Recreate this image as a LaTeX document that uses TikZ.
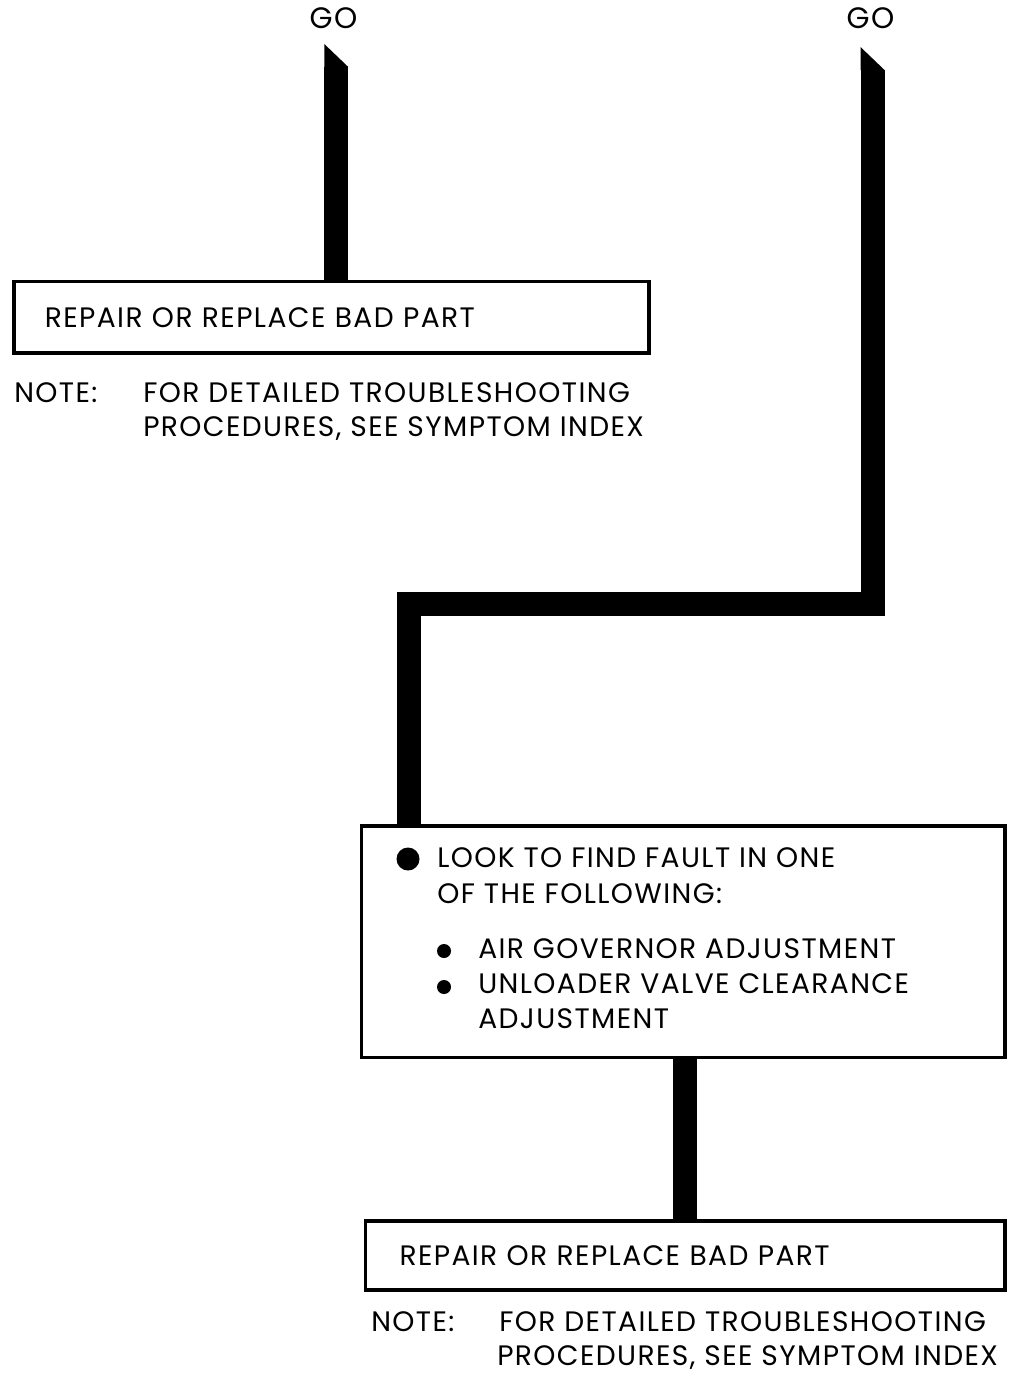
\documentclass[tikz,border=0pt]{standalone}
\usepackage{fontspec}
\setmainfont{Poppins}[LetterSpace=5]
\usepackage{tikz}
\usetikzlibrary{positioning}
\newcommand{\boxfont}{\fontsize{20}{24.2}\selectfont}

\begin{document}
\begin{tikzpicture}[
  x=0.025cm, y=-0.025cm,
  stepbox/.style={draw, line width=0.09cm, anchor=north west, align=left, font=\boxfont},
  flow/.style={line width=0.6cm},
  txt/.style={anchor=base west, inner sep=0pt, font=\boxfont},
  golabel/.style={anchor=base, inner sep=0pt, font=\fontsize{21}{24}\selectfont},
  bigdot/.style={circle, fill, inner sep=0pt, minimum size=0.575cm},
  smalldot/.style={circle, fill, inner sep=0pt, minimum size=0.35cm}
]
  \fill[white] (0,0) rectangle (1033,1381);
  \useasboundingbox (0,0) rectangle (1033,1381);

  % left branch
  \node[golabel] (go1) at (333.5,28) {GO};
  \node[stepbox, minimum width=15.875cm, minimum height=1.795cm,
        text width=14.325cm, inner xsep=0.775cm] (fix1) at (12,279.5)
        {REPAIR OR REPLACE BAD PART};
  \node[txt] (note1) at (14,402.6) {NOTE:};
  \node[txt] (note1a) at (143,402.6) {FOR DETAILED TROUBLESHOOTING};
  \node[txt] (note1b) at (143,436.7) {PROCEDURES, SEE SYMPTOM INDEX};

  % right branch
  \node[golabel] (go2) at (870.5,28) {GO};
  \node[stepbox, minimum width=16.09cm, minimum height=5.79cm] (look) at (359.5,824) {};
  \node[bigdot] (dot0) at (408,859) {};
  \node[txt] (look1) at (437,867) {LOOK TO FIND FAULT IN ONE};
  \node[txt] (look2) at (437,903) {OF THE FOLLOWING:};
  \node[smalldot] (dot1) at (444,951) {};
  \node[txt] (item1) at (478,958) {AIR GOVERNOR ADJUSTMENT};
  \node[smalldot] (dot2) at (444,987) {};
  \node[txt] (item2) at (478,993) {UNLOADER VALVE CLEARANCE};
  \node[txt] (item2b) at (478,1028) {ADJUSTMENT};

  \node[stepbox, minimum width=15.99cm, minimum height=1.725cm,
        text width=14.29cm, inner xsep=0.85cm] (fix2) at (363.7,1219)
        {REPAIR OR REPLACE BAD PART};
  \node[txt] (note2) at (371,1331) {NOTE:};
  \node[txt] (note2a) at (499,1331) {FOR DETAILED TROUBLESHOOTING};
  \node[txt] (note2b) at (497,1365) {PROCEDURES, SEE SYMPTOM INDEX};

  % flow lines
  \coordinate (t1) at (336.3,67);
  \coordinate (t2) at (872.5,70);
  \coordinate (k2) at (409,603.5);
  \coordinate (k3) at (685,0);
  \draw[flow] (t1) -- (t1 |- fix1.north);
  \fill (t1) ++(-12,0) -- ++(0,-23) -- ++(24,23) -- cycle;
  \draw[flow] (t2) |- (k2) -- (k2 |- look.north);
  \fill (t2) ++(-12,0) -- ++(0,-23) -- ++(24,23) -- cycle;
  \draw[flow] (k3 |- look.south) -- (k3 |- fix2.north);
\end{tikzpicture}
\end{document}
